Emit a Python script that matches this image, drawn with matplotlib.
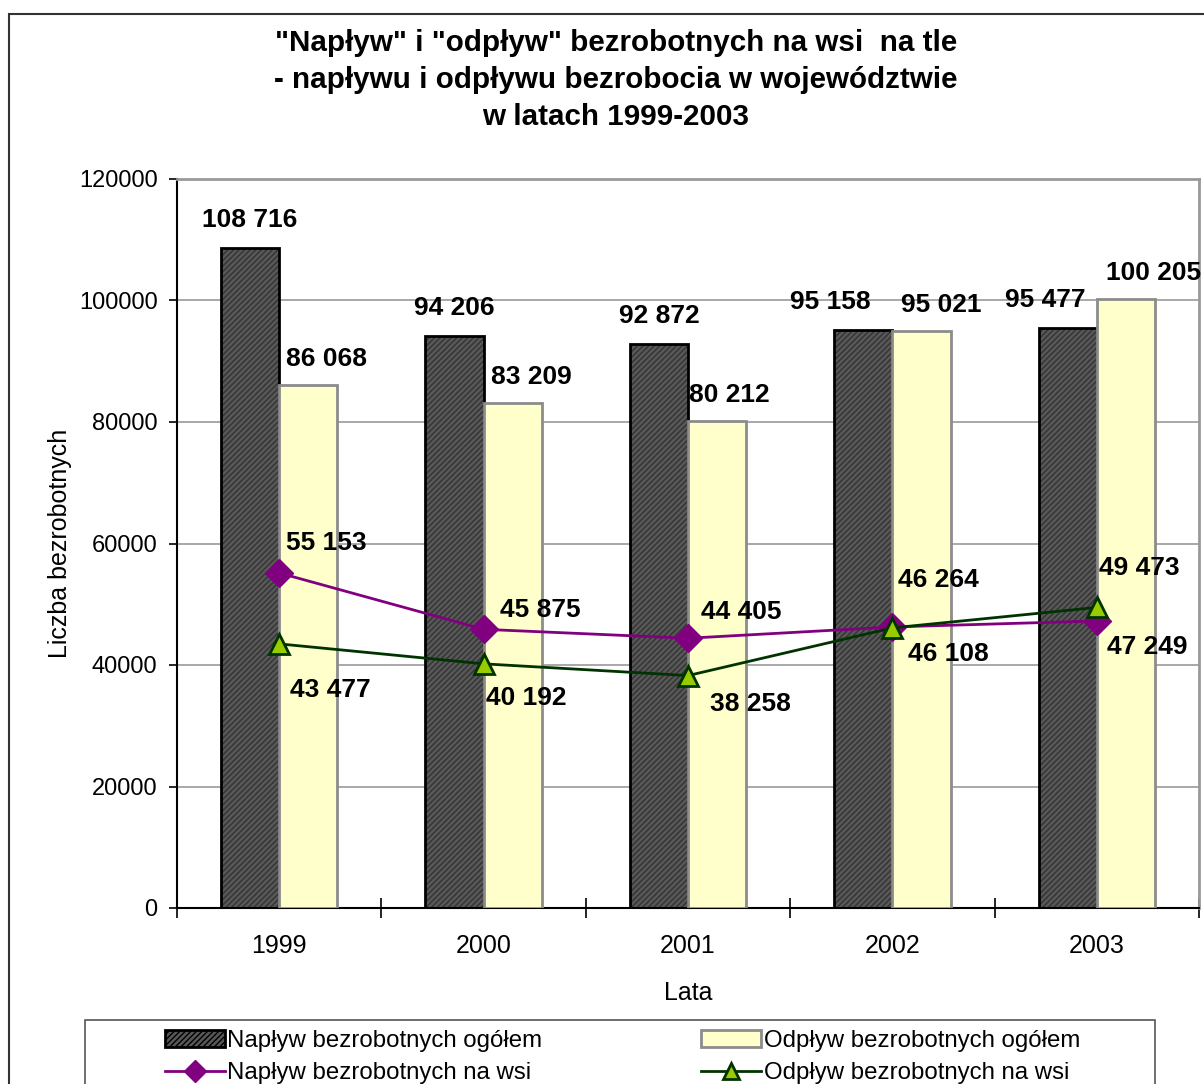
import matplotlib as mpl

mpl.use("Agg")
import matplotlib.pyplot as plt
from matplotlib.patches import Rectangle
from matplotlib.lines import Line2D
import numpy as np

plt.rcParams["font.family"] = ["Liberation Sans", "DejaVu Sans"]
plt.rcParams["hatch.linewidth"] = 1.0

years = ["1999", "2000", "2001", "2002", "2003"]
naplyw_ogolem = [108716, 94206, 92872, 95158, 95477]
odplyw_ogolem = [86068, 83209, 80212, 95021, 100205]
naplyw_wies = [55153, 45875, 44405, 46264, 47249]
odplyw_wies = [43477, 40192, 38258, 46108, 49473]

title = ('"Napływ" i "odpływ" bezrobotnych na wsi  na tle\n'
         '- napływu i odpływu bezrobocia w województwie\n'
         'w latach 1999-2003')


def fmt(v):
    # thousands separated by a space, as in the original
    return f"{v:,}".replace(",", " ")


fig = plt.figure(figsize=(12.04, 10.84), dpi=100)
ax = fig.add_axes([177 / 1204, 1 - 908 / 1084, 1022 / 1204, 729 / 1084])

x = np.arange(len(years))
w = 0.285

ax.bar(x - w / 2, naplyw_ogolem, w, color="#585858", hatch="//////",
       edgecolor="#333333", linewidth=0, zorder=2)
ax.bar(x - w / 2, naplyw_ogolem, w, fill=False, edgecolor="black",
       linewidth=2, zorder=3)
ax.bar(x + w / 2, odplyw_ogolem, w, color="#ffffcc", edgecolor="#8c8c8c",
       linewidth=2, zorder=3)

ax.plot(x, naplyw_wies, color="#800080", lw=2, marker="D", ms=14,
        mfc="#800080", mec="#800080", zorder=5)
ax.plot(x, odplyw_wies, color="#003300", lw=2, marker="^", ms=14,
        mfc="#99cc00", mec="#003300", mew=2, zorder=5)

lab_kw = dict(textcoords="offset pixels", ha="center", va="center",
              fontsize=19, fontweight="bold", zorder=6)

# label offsets in pixels (Excel nudged the overlapping ones)
dark_dx = [0, 0, 0, -33, -22]
light_dx = [18, 19, 12, 20, 28]
for i in range(len(years)):
    ax.annotate(fmt(naplyw_ogolem[i]), (x[i] - w / 2, naplyw_ogolem[i]),
                xytext=(dark_dx[i], 28), **lab_kw)
    ax.annotate(fmt(odplyw_ogolem[i]), (x[i] + w / 2, odplyw_ogolem[i]),
                xytext=(light_dx[i], 26), **lab_kw)

nw_off = [(47, 30), (57, 19), (53, 26), (46, 47), (50, -26)]
ow_off = [(51, -46), (43, -34), (62, -28), (56, -26), (43, 39)]
for i in range(len(years)):
    ax.annotate(fmt(naplyw_wies[i]), (x[i], naplyw_wies[i]),
                xytext=nw_off[i], **lab_kw)
    ax.annotate(fmt(odplyw_wies[i]), (x[i], odplyw_wies[i]),
                xytext=ow_off[i], **lab_kw)

ax.set_xlim(-0.5, len(years) - 0.5)
ax.set_ylim(0, 120000)
ax.set_yticks(np.arange(0, 120001, 20000))
ax.yaxis.grid(True, color="#999999", lw=1.2)
ax.set_axisbelow(True)
ax.tick_params(axis="y", labelsize=17, direction="out", length=6,
               width=1.2, pad=8)
ax.set_xticks(x)
ax.set_xticklabels(years)
ax.set_xticks(np.arange(-0.5, len(years)), minor=True)
ax.tick_params(axis="x", which="major", length=0, labelsize=18, pad=19)
ax.tick_params(axis="x", which="minor", direction="inout", length=14,
               width=1.2)

for s in ["left", "bottom"]:
    ax.spines[s].set_color("black")
    ax.spines[s].set_linewidth(1.5)
for s in ["top", "right"]:
    ax.spines[s].set_color("#999999")
    ax.spines[s].set_linewidth(2)

ax.set_ylabel("Liczba bezrobotnych", fontsize=18, labelpad=5)
ax.set_xlabel("Lata", fontsize=18, labelpad=16)

fig.text(616 / 1204, 1 - 80 / 1084, title, ha="center", va="center",
         fontsize=21.3, fontweight="bold", linespacing=1.4)

# outer chart border, cut off by the picture edge as in the original
fig.patches.append(Rectangle((9 / 1204, -0.1), 1.2, 1.1 - 14 / 1084,
                             transform=fig.transFigure, fill=False,
                             edgecolor="#333333", lw=1.5))

# legend box (runs past the bottom edge)
fig.patches.append(Rectangle((85 / 1204, -0.05), 1070 / 1204,
                             0.05 + 1 - 1020 / 1084,
                             transform=fig.transFigure, fill=False,
                             edgecolor="#555555", lw=1.2))

handles = [
    Rectangle((0, 0), 1, 1, facecolor="#585858", hatch="//////",
              edgecolor="black", lw=2),
    Rectangle((0, 0), 1, 1, facecolor="#ffffcc", edgecolor="#8c8c8c", lw=2),
    Line2D([], [], color="#800080", lw=2, marker="D", ms=11,
           mfc="#800080", mec="#800080"),
    Line2D([], [], color="#003300", lw=2, marker="^", ms=11,
           mfc="#99cc00", mec="#003300", mew=2),
]
labels = ["Napływ bezrobotnych ogółem", "Odpływ bezrobotnych ogółem",
          "Napływ bezrobotnych na wsi", "Odpływ bezrobotnych na wsi"]
order = [0, 2, 1, 3]
leg = fig.legend([handles[k] for k in order], [labels[k] for k in order],
                 loc="upper left", bbox_to_anchor=(165 / 1204, 1 - 1030 / 1084),
                 ncol=2, fontsize=17.3, frameon=False,
                 handlelength=2.5, handleheight=0.7,
                 handletextpad=0.1, columnspacing=6.6, borderpad=0,
                 labelspacing=0.42, borderaxespad=0)

fig.savefig("out.png", dpi=100)
